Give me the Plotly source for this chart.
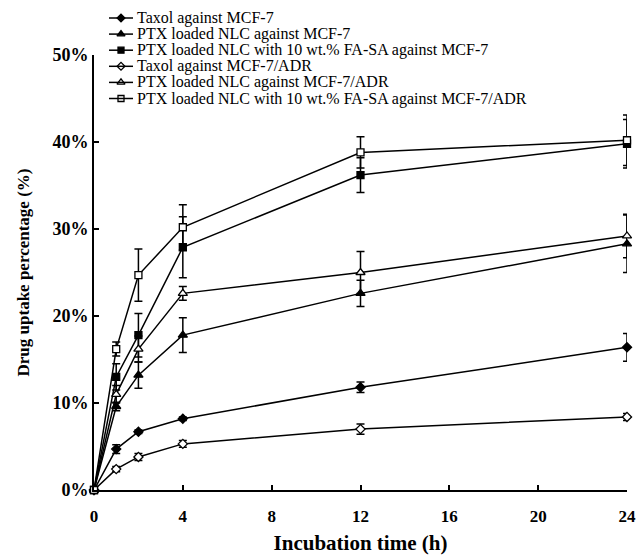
import plotly.graph_objects as go

t = [0, 1, 2, 4, 12, 24]
x_ticks = [0, 4, 8, 12, 16, 20, 24]
y_ticks = [0, 10, 20, 30, 40, 50]
y_tick_labels = ["0%", "10%", "20%", "30%", "40%", "50%"]

names = [
    "Taxol against MCF-7",
    "PTX loaded NLC against MCF-7",
    "PTX loaded NLC with 10 wt.% FA-SA against MCF-7",
    "Taxol against MCF-7/ADR",
    "PTX loaded NLC against MCF-7/ADR",
    "PTX loaded NLC with 10 wt.% FA-SA against MCF-7/ADR",
]

taxol_mcf7 = [0, 4.7, 6.7, 8.2, 11.8, 16.4]
taxol_mcf7_err = [0, 0.5, 0.2, 0.2, 0.6, 1.6]
nlc_mcf7 = [0, 9.6, 13.2, 17.8, 22.6, 28.3]
nlc_mcf7_err = [0, 0.5, 1.5, 2.0, 1.5, 3.3]
fasa_mcf7 = [0, 13.0, 17.8, 27.9, 36.2, 39.8]
fasa_mcf7_err = [0, 1.5, 2.5, 3.5, 2.0, 2.8]
taxol_adr = [0, 2.4, 3.8, 5.3, 7.0, 8.4]
taxol_adr_err = [0, 0.3, 0.4, 0.4, 0.6, 0.4]
nlc_adr = [0, 11.0, 16.2, 22.6, 25.0, 29.2]
nlc_adr_err = [0, 1.0, 1.5, 0.8, 2.4, 2.5]
fasa_adr = [0, 16.2, 24.7, 30.2, 38.8, 40.2]
fasa_adr_err = [0, 0.8, 3.0, 2.6, 1.8, 2.9]

series = [
    (taxol_mcf7, taxol_mcf7_err, "diamond", "black", 7),
    (nlc_mcf7, nlc_mcf7_err, "triangle-up", "black", 8),
    (fasa_mcf7, fasa_mcf7_err, "square", "black", 7),
    (taxol_adr, taxol_adr_err, "diamond", "white", 7),
    (nlc_adr, nlc_adr_err, "triangle-up", "white", 8),
    (fasa_adr, fasa_adr_err, "square", "white", 7),
]

FONT = "Liberation Serif, Times New Roman, serif"

# layout (pixels)
W, H = 640, 555
ML, MR, MT, MB = 94, 13, 4, 65
PLOT_TOP = 55              # pixel row of the 50% line
PX0, PX1 = ML, W - MR
PY0, PY1 = H - MB, MT
Y_DOMAIN_TOP = (PY0 - PLOT_TOP) / (PY0 - PY1)
LEG_LINE_X0, LEG_LINE_X1, LEG_TEXT_X = 109, 133, 135
LEG_Y0, LEG_DY = 18, 16.1

fig = go.Figure()
for name, (y, e, sym, fill, sz) in zip(names, series):
    fig.add_trace(go.Scatter(
        x=t, y=y, name=name, mode="lines+markers", showlegend=False,
        line=dict(color="black", width=1.5),
        marker=dict(symbol=sym, size=sz, color=fill, line=dict(color="black", width=1.3)),
        error_y=dict(type="data", array=e, color="black", thickness=1.5, width=4, visible=True),
        cliponaxis=False,
    ))

# hand-made compact legend on a pixel-mapped overlay subplot
shapes = []
annotations = []
for i, (name, (y, e, sym, fill, sz)) in enumerate(zip(names, series)):
    ly = LEG_Y0 + i * LEG_DY
    shapes.append(dict(type="line", xref="x2", yref="y2",
                       x0=LEG_LINE_X0, x1=LEG_LINE_X1, y0=ly, y1=ly,
                       line=dict(color="black", width=1.5)))
    fig.add_trace(go.Scatter(
        x=[(LEG_LINE_X0 + LEG_LINE_X1) / 2], y=[ly], xaxis="x2", yaxis="y2",
        mode="markers", showlegend=False, hoverinfo="skip", cliponaxis=False,
        marker=dict(symbol=sym, size=sz - 1, color=fill, line=dict(color="black", width=1.3)),
    ))
    annotations.append(dict(x=LEG_TEXT_X, y=ly, xref="x2", yref="y2", text=name,
                            showarrow=False, xanchor="left", yanchor="middle",
                            font=dict(family=FONT, size=16, color="black")))

fig.update_layout(
    width=W, height=H,
    margin=dict(l=ML, r=MR, t=MT, b=MB, autoexpand=False),
    paper_bgcolor="white", plot_bgcolor="rgba(0,0,0,0)",
    showlegend=False,
    shapes=shapes, annotations=annotations,
    xaxis=dict(
        range=[0, 24], tickvals=x_ticks, automargin=False,
        showline=True, linecolor="black", linewidth=2,
        ticks="inside", ticklen=5, tickwidth=1.5, tickcolor="black",
        showgrid=False, zeroline=False, ticklabelstandoff=10,
        tickfont=dict(family=FONT, size=17, color="black", weight="bold"),
        title=dict(text="Incubation time (h)", standoff=16,
                   font=dict(family=FONT, size=21, color="black", weight="bold")),
    ),
    yaxis=dict(
        domain=[0, Y_DOMAIN_TOP], automargin=False,
        range=[0, 50], tickvals=y_ticks, ticktext=y_tick_labels,
        showline=True, linecolor="black", linewidth=2,
        ticks="inside", ticklen=5, tickwidth=1.5, tickcolor="black",
        showgrid=False, zeroline=False,
        tickfont=dict(family=FONT, size=18, color="black", weight="bold"),
        title=dict(text="Drug uptake percentage (%)", standoff=18,
                   font=dict(family=FONT, size=17, color="black", weight="bold")),
    ),
    xaxis2=dict(range=[PX0, PX1], overlaying="x", anchor="y2", visible=False,
                fixedrange=True, automargin=False),
    yaxis2=dict(range=[PY0, PY1], domain=[0, 1], anchor="x2", visible=False,
                fixedrange=True, automargin=False),
)

fig.write_html("out.html")
